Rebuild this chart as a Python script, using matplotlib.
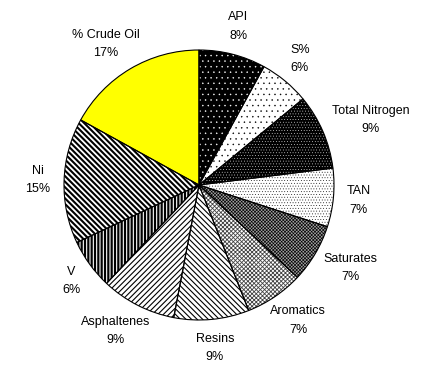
import matplotlib
matplotlib.use("Agg")
import matplotlib.pyplot as plt
import numpy as np

plt.rcParams["font.family"] = ["Liberation Sans", "DejaVu Sans"]

LABELS = ["API", "S%", "Total Nitrogen", "TAN", "Saturates", "Aromatics",
          "Resins", "Asphaltenes", "V", "Ni", "% Crude Oil"]
PERCENTS = [8, 6, 9, 7, 7, 7, 9, 9, 6, 15, 17]

# (face colour, hatch colour, hatch pattern, hatch line width) for each slice
STYLES = [
    ("black", "white", "...", 0.3),
    ("white", "black", "...", 0.3),
    ("black", "white", "......", 0.2),
    ("white", "black", "......", 0.25),
    ("#a0a0a0", "black", "xxxxxxxxxx", 0.45),
    ("white", "#444444", "xxxxxxxx", 0.6),
    ("white", "black", "\\\\\\\\\\\\", 0.8),
    ("white", "black", "//////", 0.8),
    ("white", "black", "|||||", 1.6),
    ("white", "black", "\\\\\\\\\\\\", 1.5),
    ("#ffff00", "#ffff00", "", 1.0),
]


def main():
    fig = plt.figure(figsize=(4.27, 3.81), dpi=100)
    fig.patch.set_facecolor("white")
    ax = fig.add_axes([64 / 427, 61 / 381, 270 / 427, 270 / 381])

    wedges, _ = ax.pie(PERCENTS, startangle=90, counterclock=False,
                       wedgeprops=dict(linewidth=0))
    for w, (face, hcol, hatch, hlw) in zip(wedges, STYLES):
        w.set_facecolor(face)
        w.set_edgecolor(hcol)
        w.set_linewidth(0)
        w.set_hatch(hatch)
        if hasattr(w, "set_hatch_linewidth"):
            w.set_hatch_linewidth(hlw)

    # black outlines on top of the patterned slices
    ax.pie(PERCENTS, startangle=90, counterclock=False,
           wedgeprops=dict(facecolor="none", edgecolor="black", linewidth=0.8))

    ax.set_xlim(-1, 1)
    ax.set_ylim(-1, 1)
    ax.set_aspect("equal")
    ax.axis("off")

    texts = []
    for w, name, pct in zip(wedges, LABELS, PERCENTS):
        mid = np.deg2rad((w.theta1 + w.theta2) / 2)
        t = ax.text(1.1 * np.cos(mid), 1.1 * np.sin(mid), f"{name}\n{pct}%",
                    ha="center", va="center", fontsize=9, linespacing=1.7)
        texts.append((t, mid))

    fig.canvas.draw()
    renderer = fig.canvas.get_renderer()
    scale = ax.transData.transform((1, 0))[0] - ax.transData.transform((0, 0))[0]
    for t, mid in texts:
        bb = t.get_window_extent(renderer)
        hw = bb.width / 2 / scale
        hh = bb.height / 2 / scale
        x, y = t.get_position()
        t.set_position((x + hw * np.cos(mid), y + hh * np.sin(mid)))

    fig.savefig("out.png", dpi=100)


if __name__ == "__main__":
    main()
